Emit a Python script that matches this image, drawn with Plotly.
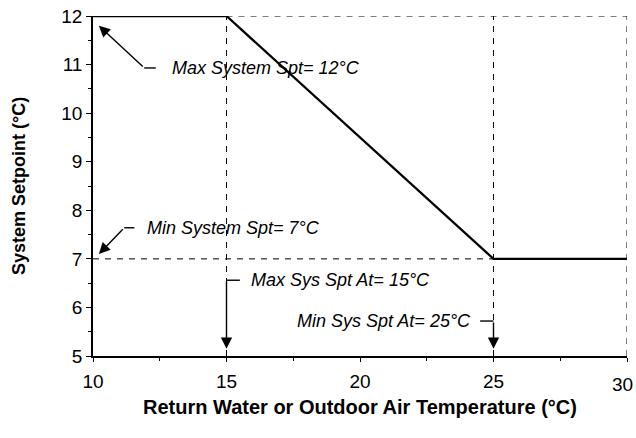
import plotly.graph_objects as go

# Data
curve_x = [10, 15, 25, 30]
curve_y = [12, 12, 7, 7]
max_spt = 12
min_spt = 7
max_at = 15
min_at = 25
x_min, x_max = 10, 30
y_min, y_max = 5, 12
x_ticks = [10, 15, 20, 25, 30]
y_ticks = [5, 6, 7, 8, 9, 10, 11, 12]

FONT = "Liberation Sans, Arial, sans-serif"
dash_style = dict(color="black", width=1, dash="6px,6px")

fig = go.Figure()

# Dashed guide lines
fig.add_trace(go.Scatter(x=[max_at, x_max], y=[max_spt, max_spt], mode="lines",
                         line=dash_style, cliponaxis=False, hoverinfo="skip"))
fig.add_trace(go.Scatter(x=[x_min, min_at], y=[min_spt, min_spt], mode="lines",
                         line=dash_style, cliponaxis=False, hoverinfo="skip"))
for xv in [max_at, min_at, x_max]:
    fig.add_trace(go.Scatter(x=[xv, xv], y=[y_min, y_max], mode="lines",
                             line=dash_style, cliponaxis=False, hoverinfo="skip"))

# Main setpoint curve
fig.add_trace(go.Scatter(x=curve_x, y=curve_y, mode="lines",
                         line=dict(color="black", width=2.3), cliponaxis=False))

# Leader stubs (horizontal pieces / bends)
stubs = [
    ([11.92, 12.35], [10.93, 10.93]),
    ([11.17, 11.55], [7.64, 7.64]),
    ([15, 15.5], [6.56, 6.56]),
    ([24.5, 25], [5.72, 5.72]),
]
for sx, sy in stubs:
    fig.add_trace(go.Scatter(x=sx, y=sy, mode="lines",
                             line=dict(color="black", width=1.4), hoverinfo="skip"))

arrow_common = dict(showarrow=True, arrowhead=2, arrowsize=1.6, arrowwidth=1.4,
                    arrowcolor="black", axref="x", ayref="y", text="")
annotations = [
    dict(x=10.22, y=11.8, ax=11.92, ay=10.93, **arrow_common),
    dict(x=10.22, y=7.1, ax=11.17, ay=7.64, **arrow_common),
    dict(x=15, y=5.15, ax=15, ay=6.56, **arrow_common),
    dict(x=25, y=5.15, ax=25, ay=5.72, **arrow_common),
]
text_font = dict(family=FONT, size=18, color="black")
labels = [
    (12.9, 10.93, "left", "Max System Spt= 12°C"),
    (11.95, 7.64, "left", "Min System Spt= 7°C"),
    (15.85, 6.56, "left", "Max Sys Spt At= 15°C"),
    (24.25, 5.72, "right", "Min Sys Spt At= 25°C"),
]
for lx, ly, anc, txt in labels:
    annotations.append(dict(x=lx, y=ly, text="<i>" + txt + "</i>", showarrow=False,
                            xanchor=anc, yanchor="middle", font=text_font))

# Last x tick label, kept inside the figure edge
annotations.append(dict(x=x_ticks[-1], y=0, yref="paper", yshift=-28, xshift=8,
                        text=str(x_ticks[-1]), showarrow=False, xanchor="right", yanchor="middle",
                        font=dict(family=FONT, size=19, color="black")))

# Axis titles
annotations.append(dict(xref="paper", yref="paper", x=0, y=0.5, xshift=-74,
                        text="<b>System Setpoint (°C)</b>", showarrow=False, textangle=-90,
                        xanchor="center", yanchor="middle", font=dict(family=FONT, size=18)))
annotations.append(dict(xref="paper", yref="paper", x=0.5, y=0, yshift=-51,
                        text="<b>Return Water or Outdoor Air Temperature (°C)</b>", showarrow=False,
                        xanchor="center", yanchor="middle", font=dict(family=FONT, size=20)))

fig.update_layout(
    width=636, height=438,
    margin=dict(l=93, r=9, t=16, b=82),
    paper_bgcolor="white", plot_bgcolor="white",
    showlegend=False,
    font=dict(family=FONT, size=19, color="black"),
    annotations=annotations,
    xaxis=dict(range=[x_min, x_max], tickvals=x_ticks, showgrid=False, zeroline=False,
               showline=True, linecolor="black", linewidth=1.5, automargin=False,
               ticks="outside", ticklen=4, tickcolor="black",
               minor=dict(dtick=2.5, ticks="outside", ticklen=3, tickcolor="black"),
               tickfont=dict(size=19), ticklabelstandoff=3),
    yaxis=dict(range=[y_min, y_max], tickvals=y_ticks, showgrid=False, zeroline=False,
               showline=True, linecolor="black", linewidth=1.5, automargin=False,
               ticks="outside", ticklen=5, tickcolor="black",
               minor=dict(dtick=0.5, ticks="outside", ticklen=3, tickcolor="black"),
               tickfont=dict(size=19), ticklabelstandoff=0),
)

fig.write_html("out.html", config={"displayModeBar": False},
               post_script="document.body.style.margin='0';document.body.style.overflow='hidden';")
